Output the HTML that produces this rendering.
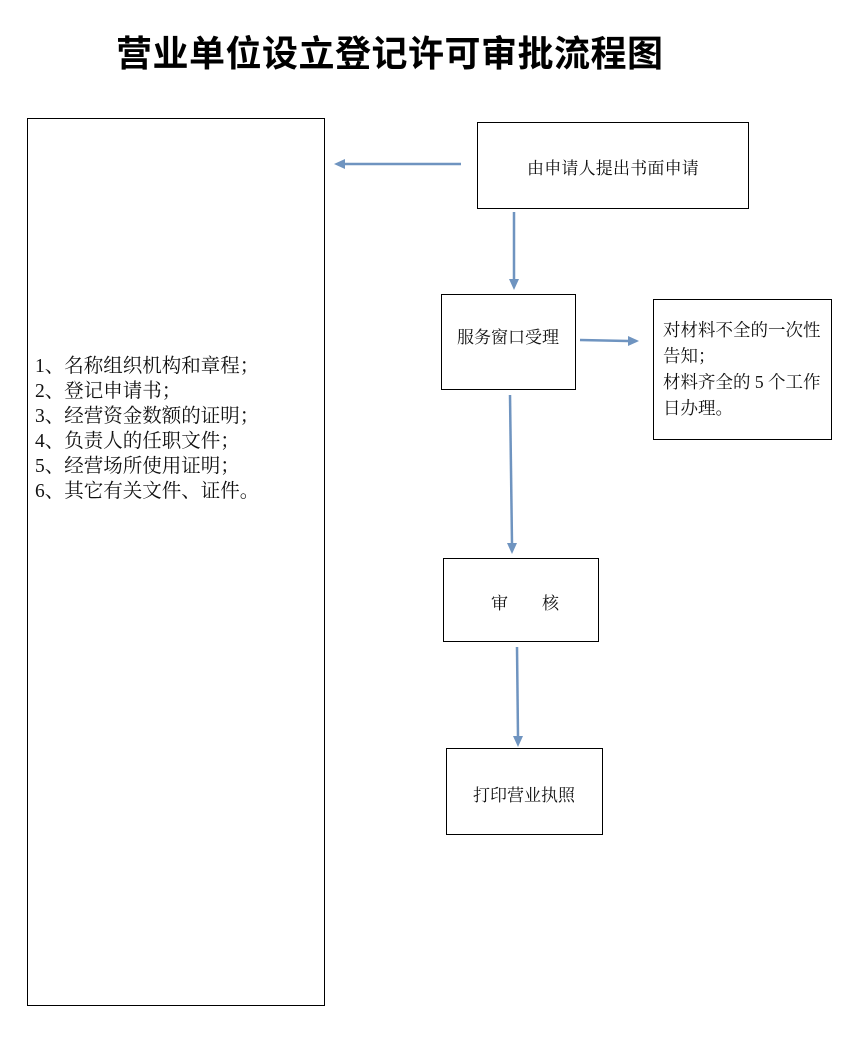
<!DOCTYPE html>
<html><head><meta charset="utf-8"><style>
body{margin:0;width:855px;height:1039px;background:#fff;position:relative;overflow:hidden;font-family:"Liberation Serif","Noto Serif CJK SC",serif;color:#111}
.b{position:absolute;border:1.3px solid #000;box-sizing:border-box}
.t{position:absolute;white-space:nowrap}
.t div{height:25px;line-height:25px;overflow:visible}
h1{position:absolute;left:116px;top:25px;margin:0;font:bold 36px "Liberation Sans","Noto Sans CJK SC",sans-serif;letter-spacing:0.5px;color:#000}
</style></head><body>
<h1>营业单位设立登记许可审批流程图</h1>
<div class="b" style="left:27px;top:118px;width:298px;height:888px"></div>
<div class="t" style="left:35px;top:354px;font-size:19.5px"><div>1、名称组织机构和章程；</div><div>2、登记申请书；</div><div>3、经营资金数额的证明；</div><div>4、负责人的任职文件；</div><div>5、经营场所使用证明；</div><div>6、其它有关文件、证件。</div></div>
<div class="b" style="left:477px;top:122px;width:272px;height:87px"></div>
<div class="t" style="left:527px;top:154px;font-size:17px;letter-spacing:0.2px">由申请人提出书面申请</div>
<div class="b" style="left:441px;top:294px;width:135px;height:96px"></div>
<div class="t" style="left:457px;top:323px;font-size:17px">服务窗口受理</div>
<div class="b" style="left:653px;top:299px;width:179px;height:141px"></div>
<div class="t" style="left:663px;top:317px;font-size:17.5px;line-height:26px">对材料不全的一次性<br>告知；<br>材料齐全的 5 个工作<br>日办理。</div>
<div class="b" style="left:443px;top:558px;width:156px;height:84px"></div>
<div class="t" style="left:491px;top:589px;font-size:17px">审　　核</div>
<div class="b" style="left:446px;top:748px;width:157px;height:87px"></div>
<div class="t" style="left:473px;top:781px;font-size:17px">打印营业执照</div>
<svg width="855" height="1039" style="position:absolute;left:0;top:0" fill="#6f94c0" stroke="#6f94c0">
<g stroke-width="2.5">
<line x1="461" y1="164" x2="344" y2="164"/>
<line x1="514" y1="212" x2="514" y2="280"/>
<line x1="580" y1="340" x2="628" y2="341"/>
<line x1="510" y1="395" x2="512" y2="544"/>
<line x1="517" y1="647" x2="518" y2="737"/>
</g>
<g stroke="none">
<polygon points="334,164 345,159 345,169"/>
<polygon points="514,290 509,279 519,279"/>
<polygon points="639,341 628,336 628,346"/>
<polygon points="512,554 507,543 517,543"/>
<polygon points="518,747 513,736 523,736"/>
</g>
</svg>
</body></html>
